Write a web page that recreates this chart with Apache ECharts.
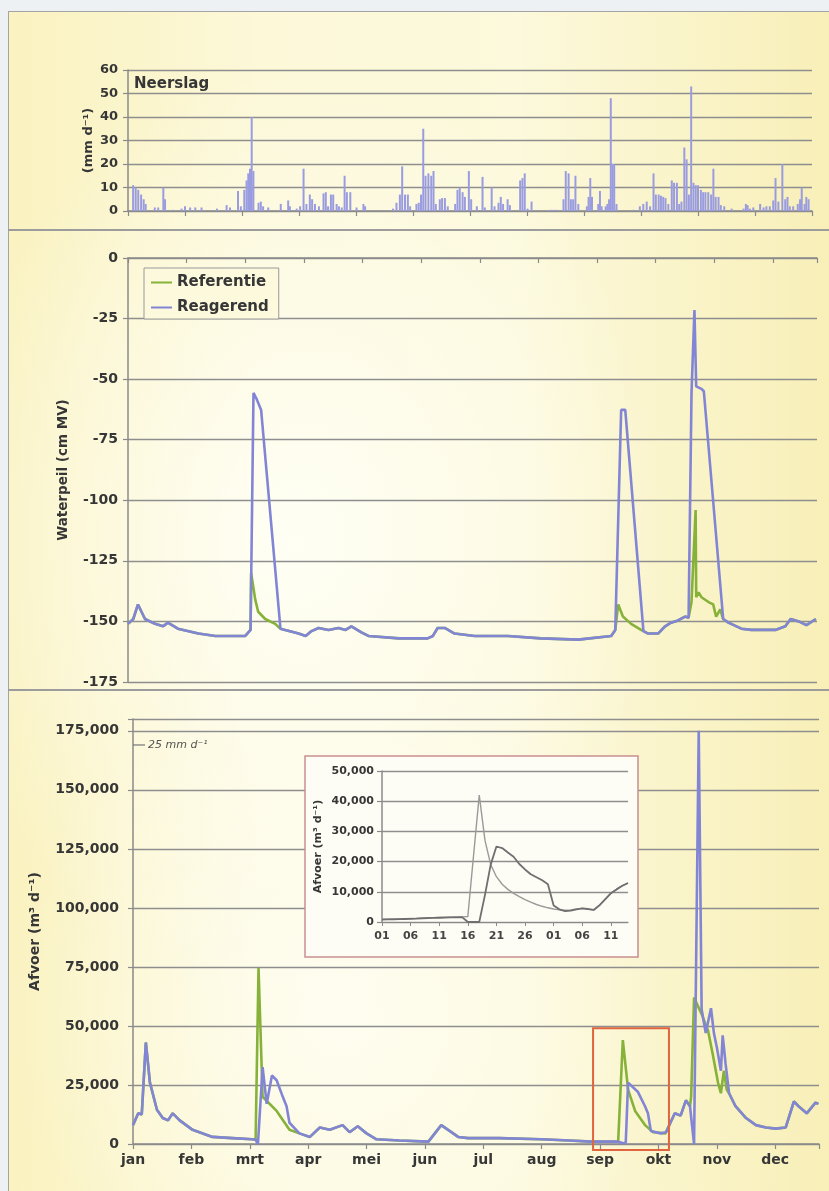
<!DOCTYPE html>
<html>
<head>
<meta charset="utf-8">
<script src="https://cdn.jsdelivr.net/npm/echarts@6/dist/echarts.min.js"></script>
<style>
html,body{margin:0;padding:0;background:#eef1f3;width:829px;height:1191px;overflow:hidden;}
#bg{position:absolute;left:8px;top:11px;width:821px;height:1180px;border-left:1.5px solid #a4a4a4;border-top:1.5px solid #a4a4a4;
background:
 radial-gradient(ellipse 45% 40% at 35% 45%, rgba(255,255,246,0.95) 0%, rgba(255,255,246,0) 100%),
 radial-gradient(ellipse 40% 30% at 40% 85%, rgba(255,255,246,0.8) 0%, rgba(255,255,246,0) 100%),
 linear-gradient(90deg, #faf2c0 0%, #fcf8d8 30%, #fcf9dc 62%, #f8efb8 100%);}
#chart{position:absolute;left:0;top:0;width:829px;height:1191px;}
</style>
</head>
<body>
<div id="bg"></div>
<div id="chart"></div>
<script>
// ---------- data ----------
const months = ['jan','feb','mrt','apr','mei','jun','jul','aug','sep','okt','nov','dec'];

// daily precipitation (x in months from 1 Jan, mm/d)
const rainfall = [[0.09,11],[0.135,10],[0.18,9],[0.23,7],[0.275,5],[0.31,3],[0.47,1.5],[0.53,1.5],[0.62,10],[0.65,5],[0.79,0.5],[0.94,1],[1.0,2],[1.09,1.5],[1.18,1.5],[1.29,1.5],[1.56,1],[1.73,2.5],[1.79,1.5],[1.93,8.5],[1.98,2],[2.04,9],[2.08,13],[2.11,16],[2.14,18],[2.17,40],[2.2,17],[2.29,3.5],[2.33,4],[2.37,2],[2.46,1.5],[2.68,3],[2.81,4.5],[2.84,2],[2.96,1],[3.02,2],[3.08,18],[3.13,3],[3.19,7],[3.23,5],[3.28,3],[3.35,2],[3.43,7.5],[3.47,8],[3.51,2],[3.56,7],[3.6,7],[3.66,3],[3.7,2],[3.75,1.5],[3.8,15],[3.84,8],[3.9,8],[4.01,1.5],[4.13,3],[4.16,2],[4.65,1],[4.71,3.5],[4.77,7],[4.81,19],[4.86,7],[4.91,7],[4.95,2],[5.06,3],[5.1,3.5],[5.14,7],[5.18,35],[5.22,15],[5.27,16],[5.32,15],[5.36,17],[5.4,3],[5.47,5],[5.51,5.5],[5.56,5.5],[5.61,2],[5.74,3],[5.78,9],[5.82,10],[5.87,8],[5.91,6],[5.98,17],[6.02,5],[6.12,2],[6.22,14.5],[6.26,1.5],[6.38,10],[6.43,2],[6.5,3.5],[6.54,6],[6.58,3],[6.66,5],[6.7,2.5],[6.88,13],[6.92,14],[6.96,16],[7.01,1],[7.08,4],[7.42,0.5],[7.47,0.5],[7.52,0.5],[7.64,5],[7.68,17],[7.73,16],[7.77,5],[7.81,5],[7.85,15],[7.9,3],[8.05,2],[8.08,6],[8.11,14],[8.14,6],[8.25,3],[8.28,8.5],[8.31,2],[8.38,2],[8.41,3],[8.44,5],[8.47,48],[8.5,20],[8.53,20],[8.57,3],[8.87,0.5],[8.98,2],[9.04,3],[9.1,4],[9.16,2],[9.22,16],[9.26,7],[9.31,7],[9.35,6.5],[9.39,6],[9.43,5.5],[9.48,3],[9.54,13],[9.58,12],[9.63,12],[9.67,3],[9.71,4],[9.76,27],[9.8,22],[9.84,7],[9.88,53],[9.92,12],[9.96,11],[10.0,11],[10.05,9],[10.09,8],[10.13,8],[10.18,8],[10.23,7],[10.27,18],[10.31,6],[10.36,6],[10.4,2.5],[10.46,2],[10.59,1],[10.8,1],[10.84,3],[10.87,2.5],[10.91,1],[10.97,1.5],[11.09,3],[11.15,1.5],[11.2,2],[11.26,2],[11.32,4.5],[11.36,14],[11.41,4],[11.48,20],[11.53,5],[11.57,6],[11.61,2],[11.67,2],[11.75,3],[11.79,5],[11.82,10],[11.87,3],[11.9,6],[11.94,5]];

// water level (cm MV)
const waterRef = [[0,-151],[0.09,-149],[0.17,-143],[0.29,-149],[0.46,-151],[0.6,-152],[0.68,-150.5],[0.85,-153],[1.2,-155],[1.49,-156],[2.0,-156],[2.09,-153.5],[2.1,-130],[2.17,-141],[2.22,-146],[2.34,-149],[2.51,-151],[2.6,-153],[2.68,-153.5],[2.91,-155],[3.03,-156],[3.13,-154],[3.25,-152.7],[3.42,-153.5],[3.59,-152.7],[3.71,-153.5],[3.81,-152],[3.98,-154.5],[4.1,-156],[4.62,-157],[5.11,-157],[5.2,-156],[5.28,-152.7],[5.4,-152.7],[5.57,-155],[5.91,-156],[6.48,-156],[7.04,-157],[7.68,-157.5],[8.24,-156],[8.31,-153.5],[8.36,-143],[8.44,-148],[8.58,-151],[8.75,-153.5],[8.79,-154],[8.87,-155],[9.04,-155],[9.16,-152],[9.26,-150.5],[9.38,-149.6],[9.5,-148],[9.56,-148.5],[9.61,-142],[9.68,-104],[9.69,-140],[9.73,-138],[9.78,-140],[9.9,-142],[9.98,-143],[10.03,-148],[10.1,-145],[10.15,-149],[10.24,-150.5],[10.46,-153],[10.63,-153.5],[11.04,-153.5],[11.21,-152],[11.3,-149],[11.44,-150],[11.57,-151.5],[11.73,-149]];
const waterReag = [[0,-151],[0.09,-149],[0.17,-143],[0.29,-149],[0.46,-151],[0.6,-152],[0.68,-150.5],[0.85,-153],[1.2,-155],[1.49,-156],[2.0,-156],[2.09,-153.5],[2.14,-55.7],[2.19,-58],[2.27,-62.7],[2.6,-153],[2.68,-153.5],[2.91,-155],[3.03,-156],[3.13,-154],[3.25,-152.7],[3.42,-153.5],[3.59,-152.7],[3.71,-153.5],[3.81,-152],[3.98,-154.5],[4.1,-156],[4.62,-157],[5.11,-157],[5.2,-156],[5.28,-152.7],[5.4,-152.7],[5.57,-155],[5.91,-156],[6.48,-156],[7.04,-157],[7.68,-157.5],[8.24,-156],[8.31,-153.5],[8.41,-62.7],[8.48,-62.7],[8.79,-154],[8.87,-155],[9.04,-155],[9.16,-152],[9.26,-150.5],[9.38,-149.6],[9.5,-148],[9.56,-148.5],[9.61,-55.7],[9.66,-21.5],[9.69,-53],[9.78,-54],[9.82,-55],[10.15,-149],[10.24,-150.5],[10.46,-153],[10.63,-153.5],[11.04,-153.5],[11.21,-152],[11.3,-149],[11.44,-150],[11.57,-151.5],[11.73,-149]];

// discharge (m3/d)
const flowRef = [[0,8000],[0.09,13000],[0.15,12500],[0.22,43000],[0.29,26000],[0.41,14500],[0.51,11000],[0.6,10000],[0.68,13000],[0.8,10000],[1.02,6000],[1.36,3000],[1.7,2500],[2.04,2000],[2.1,1800],[2.15,74500],[2.22,20000],[2.46,14000],[2.68,6000],[2.85,4500],[3.03,3000],[3.2,7000],[3.37,6000],[3.59,8000],[3.71,5000],[3.85,7500],[4.0,4500],[4.17,2000],[4.56,1500],[5.06,1000],[5.28,8000],[5.57,3000],[5.74,2500],[6.27,2500],[6.99,2000],[7.47,1500],[7.85,1000],[8.31,1000],[8.39,44000],[8.48,23000],[8.6,14000],[8.77,8000],[8.91,5000],[9.12,4500],[9.28,13000],[9.38,12000],[9.47,18500],[9.54,16000],[9.56,20000],[9.61,62000],[9.74,55000],[9.85,48000],[9.93,38000],[10.02,26000],[10.07,21500],[10.12,31000],[10.17,23000],[10.21,21500],[10.32,16000],[10.5,11000],[10.67,8000],[10.84,7000],[11.01,6500],[11.18,7000],[11.32,18000],[11.4,16000],[11.54,13000],[11.69,17500],[11.74,17000]];
const flowReag = [[0,8000],[0.09,13000],[0.15,12500],[0.22,43000],[0.29,26000],[0.41,14500],[0.51,11000],[0.6,10000],[0.68,13000],[0.8,10000],[1.02,6000],[1.36,3000],[1.7,2500],[2.04,2000],[2.1,1800],[2.14,0],[2.22,32500],[2.29,17000],[2.38,29000],[2.46,27000],[2.55,21000],[2.63,16000],[2.68,9000],[2.85,4500],[3.03,3000],[3.2,7000],[3.37,6000],[3.59,8000],[3.71,5000],[3.85,7500],[4.0,4500],[4.17,2000],[4.56,1500],[5.06,1000],[5.28,8000],[5.57,3000],[5.74,2500],[6.27,2500],[6.99,2000],[7.47,1500],[7.85,1000],[8.31,1000],[8.4,300],[8.44,500],[8.48,26000],[8.65,22000],[8.77,16000],[8.82,13000],[8.87,5500],[9.04,4500],[9.13,5000],[9.28,13000],[9.38,12000],[9.47,18500],[9.54,16000],[9.61,0],[9.69,175000],[9.74,57000],[9.81,47000],[9.9,57500],[9.95,47000],[10.0,41000],[10.07,31000],[10.1,46000],[10.15,34000],[10.21,21500],[10.32,16000],[10.5,11000],[10.67,8000],[10.84,7000],[11.01,6500],[11.18,7000],[11.32,18000],[11.4,16000],[11.54,13000],[11.69,17500],[11.74,17000]];

// inset: 1 Sep - 14 Oct
const insetDays = ['01','02','03','04','05','06','07','08','09','10','11','12','13','14','15','16','17','18','19','20','21','22','23','24','25','26','27','28','29','30','01','02','03','04','05','06','07','08','09','10','11','12','13','14'];
const insetRef = [900,950,1000,1050,1100,1150,1200,1300,1400,1450,1500,1550,1600,1650,1700,1800,22000,42000,27000,19000,15000,12500,10800,9500,8400,7400,6600,5800,5200,4700,4300,4000,3900,4000,4300,4500,4300,4000,5500,7500,9500,10800,12000,12900];
const insetReag = [800,850,900,950,1000,1050,1100,1200,1300,1350,1400,1450,1500,1550,1600,0,0,0,9000,19000,25000,24500,23000,21600,19200,17400,15800,14800,13800,12500,5500,4200,3600,3800,4200,4500,4300,4000,5500,7500,9500,10800,12000,12900];

// annotations (data units of the discharge panel)
const zoomBox = [[7.88, 49000], [9.18, -2500]];
const rainNote = {x: 0, y: 169000, text: '25 mm d\u207B\u00B9'};

// ---------- style ----------
const FONT = "'DejaVu Sans', 'Liberation Sans', sans-serif";
const TXT = '#363636';
const GRIDC = '#8e8e8e';
const AXC = '#8a8a8a';
const BLUE = '#8285d6';
const GREEN = '#86b23a';

function thousands(v){ return String(Math.round(v)).replace(/\B(?=(\d{3})+(?!\d))/g, ','); }

const chart = echarts.init(document.getElementById('chart'), null, {renderer:'canvas', width:829, height:1191});

function xAx(grid, max, showLabels){
  return {
    type:'value', gridIndex:grid, min:0, max:max, interval:1,
    axisLine:{show:true, lineStyle:{color:AXC, width:1.5}},
    axisTick:{show:true, inside:false, length:5, lineStyle:{color:AXC, width:1.2}},
    splitLine:{show:false},
    axisLabel:{show:showLabels, margin:9, fontFamily:FONT, fontWeight:'bold', fontSize:14, color:TXT,
      formatter:function(v){ return (Math.abs(v-Math.round(v))<1e-6 && months[Math.round(v)]) ? months[Math.round(v)] : ''; }}
  };
}
function yAx(grid, min, max, interval, name, nameGap, fontSize, nameSize, fmt, margin){
  return {
    type:'value', gridIndex:grid, min:min, max:max, interval:interval,
    name:name, nameLocation:'middle', nameGap:nameGap, nameRotate:90, nameMoveOverlap:false,
    nameTextStyle:{fontFamily:FONT, fontWeight:'bold', fontSize:nameSize, color:TXT},
    axisLine:{show:true, lineStyle:{color:AXC, width:1.5}},
    axisTick:{show:true, inside:false, length:5, lineStyle:{color:AXC, width:1.2}},
    splitLine:{show:true, lineStyle:{color:GRIDC, width:1.3}},
    axisLabel:{show:true, margin:margin, fontFamily:FONT, fontWeight:'bold', fontSize:fontSize, color:TXT, formatter:fmt}
  };
}

const option = {
  animation:false,
  backgroundColor:'transparent',
  textStyle:{fontFamily:FONT},
  title:{text:'Neerslag', left:134, top:77, padding:0,
    textStyle:{fontFamily:FONT, fontWeight:'bold', fontSize:15, color:TXT}},
  legend:{
    data:['Referentie','Reagerend'], orient:'vertical', left:144, top:268,
    padding:[7,10,4,7], itemGap:10, itemWidth:21, itemHeight:2, icon:'rect',
    backgroundColor:'#fcf9dc', borderColor:'#9a9a9a', borderWidth:1, borderRadius:0,
    textStyle:{fontFamily:FONT, fontWeight:'bold', fontSize:15, color:TXT, padding:[0,0,0,0]}
  },
  grid:[
    {left:128, top:70, width:684, height:141, containLabel:false, outerBoundsMode:'none'},
    {left:128, top:258, width:689, height:424, containLabel:false, outerBoundsMode:'none'},
    {left:133, top:719, width:686, height:425, containLabel:false, outerBoundsMode:'none'},
    {left:382, top:771, width:246, height:151, containLabel:false, outerBoundsMode:'none'}
  ],
  xAxis:[
    xAx(0, 12, false),
    xAx(1, 11.75, false),
    xAx(2, 11.75, true),
    {
      type:'category', gridIndex:3, data:insetDays, boundaryGap:false, z:5,
      axisLine:{show:true, lineStyle:{color:'#8a8a8a', width:1.2}},
      axisTick:{show:true, interval:4, length:4, lineStyle:{color:'#8a8a8a'}},
      splitLine:{show:false},
      axisLabel:{interval:4, margin:9, fontFamily:FONT, fontWeight:'bold', fontSize:11, color:'#444'}
    }
  ],
  yAxis:[
    yAx(0, 0, 60, 10, '(mm d\u207B\u00B9)', 33, 13, 13, null, 10),
    yAx(1, -175, 0, 25, 'Waterpeil (cm MV)', 58, 14, 13.5, null, 10),
    yAx(2, 0, 180000, 25000, 'Afvoer (m\u00B3 d\u207B\u00B9)', 91, 14, 14,
        function(v){ return (v % 25000 === 0) ? thousands(v) : ''; }, 14),
    Object.assign(yAx(3, 0, 50000, 10000, 'Afvoer (m\u00B3 d\u207B\u00B9)', 58, 11, 11,
        function(v){ return thousands(v); }, 8), {z:5})
  ],
  series:[
    {type:'bar', name:'Neerslag', xAxisIndex:0, yAxisIndex:0, data:rainfall, barWidth:2,
      itemStyle:{color:'#9a9ce0'}, silent:true},
    {type:'line', name:'Referentie', xAxisIndex:1, yAxisIndex:1, data:waterRef, symbol:'none', showSymbol:false,
      lineStyle:{color:GREEN, width:2.6}, itemStyle:{color:GREEN}, z:2},
    {type:'line', name:'Reagerend', xAxisIndex:1, yAxisIndex:1, data:waterReag, symbol:'none', showSymbol:false,
      lineStyle:{color:BLUE, width:2.6}, itemStyle:{color:BLUE}, z:3},
    {type:'line', name:'Referentie', xAxisIndex:2, yAxisIndex:2, data:flowRef, symbol:'none', showSymbol:false,
      lineStyle:{color:GREEN, width:2.6}, itemStyle:{color:GREEN}, z:2},
    {type:'line', name:'Reagerend', xAxisIndex:2, yAxisIndex:2, data:flowReag, symbol:'none', showSymbol:false,
      lineStyle:{color:BLUE, width:2.6}, itemStyle:{color:BLUE}, z:3},
    {type:'line', name:'inset Referentie', xAxisIndex:3, yAxisIndex:3, data:insetRef, symbol:'none', showSymbol:false,
      lineStyle:{color:'#9a9a9a', width:1.4}, itemStyle:{color:'#9a9a9a'}, z:6},
    {type:'line', name:'inset Reagerend', xAxisIndex:3, yAxisIndex:3, data:insetReag, symbol:'none', showSymbol:false,
      lineStyle:{color:'#6f6f6f', width:1.8}, itemStyle:{color:'#6f6f6f'}, z:6}
  ]
};
chart.setOption(option);

// decorations & annotations positioned through the chart's own scales
const b1 = chart.convertToPixel({gridIndex:2}, zoomBox[0]);
const b2 = chart.convertToPixel({gridIndex:2}, zoomBox[1]);
const np = chart.convertToPixel({gridIndex:2}, [rainNote.x, rainNote.y]);
chart.setOption({
  graphic:[
    {type:'line', z:1, shape:{x1:8, y1:230, x2:829, y2:230}, style:{stroke:'#9c9c9c', lineWidth:2}},
    {type:'line', z:1, shape:{x1:8, y1:690, x2:829, y2:690}, style:{stroke:'#9c9c9c', lineWidth:2}},
    {type:'rect', z:4, shape:{x:305, y:756, width:333, height:201},
      style:{fill:'#fefdf5', stroke:'#c98e8e', lineWidth:1.5}},
    {type:'rect', z:10, shape:{x:b1[0], y:b1[1], width:b2[0]-b1[0], height:b2[1]-b1[1]},
      style:{fill:'none', stroke:'#e0653f', lineWidth:2}},
    {type:'line', z:10, shape:{x1:np[0], y1:np[1], x2:np[0]+12, y2:np[1]}, style:{stroke:'#777', lineWidth:1.2}},
    {type:'text', z:10, x:np[0]+15, y:np[1], style:{text:rainNote.text, fill:'#555', font:"italic 11px 'DejaVu Sans', sans-serif", textVerticalAlign:'middle'}}
  ]
});
</script>
</body>
</html>
